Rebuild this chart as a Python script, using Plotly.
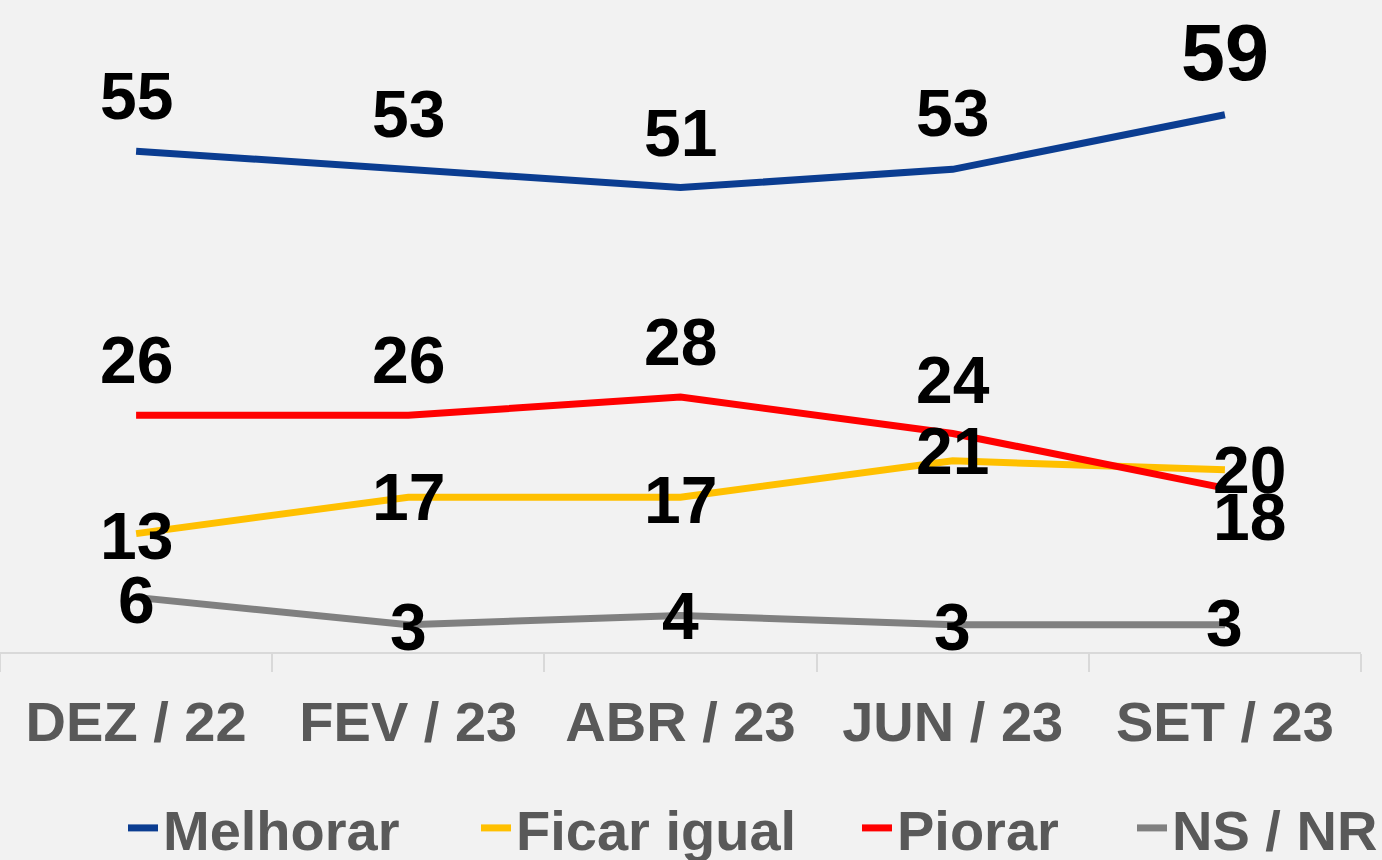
import plotly.graph_objects as go

# ---- data ----
categories = ["DEZ / 22", "FEV / 23", "ABR / 23", "JUN / 23", "SET / 23"]
melhorar = [55, 53, 51, 53, 59]
ficar_igual = [13, 17, 17, 21, 20]
piorar = [26, 26, 28, 24, 18]
ns_nr = [6, 3, 4, 3, 3]

series_names = ["Melhorar", "Ficar igual", "Piorar", "NS / NR"]
series_values = [melhorar, ficar_igual, piorar, ns_nr]

# ---- styles ----
colors = ["#0B3D91", "#FFC000", "#FF0000", "#808080"]
legend_ids = ["legend", "legend2", "legend3", "legend4"]
legend_text_x = [163, 516, 897, 1172]  # px where each legend text starts
label_yshift = [
    [55, 55, 55, 56, 62],
    [-2, 0, -3, 10, 0],
    [55, 55, 55, 53, -29],
    [-3, -2, 0, -2, 2],
]
label_xshift = [
    [0, 0, 0, 0, 0],
    [0, 0, 0, 0, 25],
    [0, 0, 0, 0, 25],
    [0, 0, 0, 0, 0],
]
label_size = [
    [66, 66, 66, 66, 79],
    [66, 66, 66, 66, 66],
    [66, 66, 66, 66, 66],
    [66, 66, 66, 66, 66],
]

FONT = "Liberation Sans"
BG = "#F2F2F2"
W, H = 1382, 860

fig = go.Figure()
for name, vals, col, lg in zip(series_names, series_values, colors, legend_ids):
    fig.add_trace(go.Scatter(
        x=categories, y=vals, name=name, mode="lines",
        line=dict(color=col, width=7),
        hoverinfo="skip", legend=lg,
    ))

annotations = []
for si, vals in enumerate(series_values):
    for pi, v in enumerate(vals):
        annotations.append(dict(
            x=categories[pi], y=v, xref="x", yref="y",
            text=f"<b>{v}</b>", showarrow=False,
            xanchor="center", yanchor="middle",
            xshift=label_xshift[si][pi], yshift=label_yshift[si][pi],
            font=dict(family=FONT, size=label_size[si][pi], color="#000000"),
        ))

legends = {}
for lg, tx in zip(legend_ids, legend_text_x):
    legends[lg] = dict(
        orientation="h", xref="container", yref="container",
        x=(tx - 40) / W, xanchor="left",
        y=1 - 828 / H, yanchor="middle",
        font=dict(family=FONT, size=56, color="#595959", weight="bold"),
        bgcolor="rgba(0,0,0,0)", borderwidth=0,
    )

fig.update_layout(
    width=W, height=H,
    margin=dict(l=0, r=21, t=10, b=208, autoexpand=False),
    paper_bgcolor=BG, plot_bgcolor=BG,
    showlegend=True,
    annotations=annotations,
    xaxis=dict(
        type="category", range=[-0.5, 4.5], automargin=False,
        tickson="boundaries", ticks="outside", ticklen=18,
        tickcolor="#D9D9D9", tickwidth=1.5,
        showline=True, linecolor="#D9D9D9", linewidth=1.5,
        showgrid=False, zeroline=False,
        tickfont=dict(family=FONT, size=56, color="#595959", weight="bold"),
        ticklabelstandoff=20,
    ),
    yaxis=dict(
        range=[0, 70.5], visible=False, showgrid=False, zeroline=False,
        automargin=False,
    ),
    **legends,
)

fig.write_html(
    "out.html",
    config={"displayModeBar": False},
    post_script="document.body.style.margin='0';document.body.style.overflow='hidden';document.body.style.background='#F2F2F2';",
)
